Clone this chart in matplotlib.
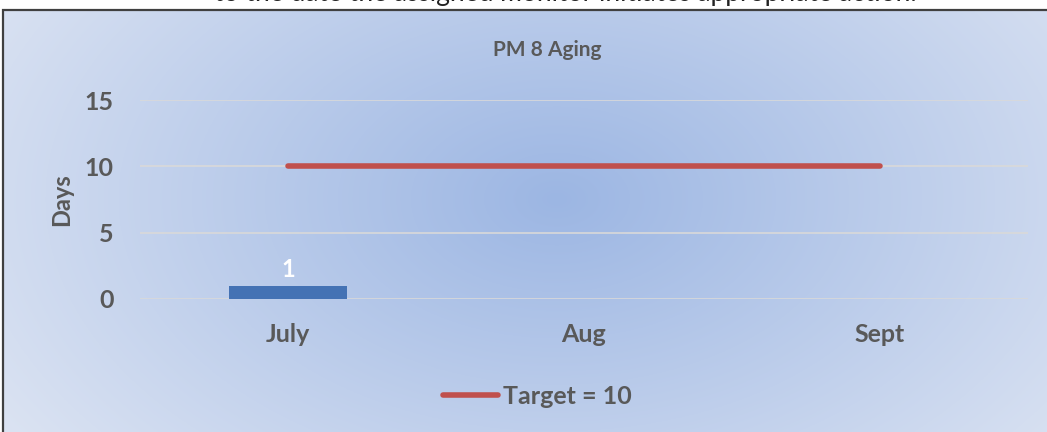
import numpy as np
import matplotlib
matplotlib.use("Agg")
import matplotlib.pyplot as plt
from matplotlib.patches import Rectangle

months = ["July", "Aug", "Sept"]
aging_days = [1, None, None]
target_days = [10, 10, 10]
target_label = "Target = 10"
title = "PM 8 Aging"
y_ticks = [0, 5, 10, 15]

W, H = 1047, 432
fig = plt.figure(figsize=(W / 100, H / 100), dpi=100)
plt.rcParams['font.family'] = ['Lato', 'DejaVu Sans']
text_col = "#595959"

# radial gradient backdrop inside the chart frame
frame_top = 1 - 10 / H
bg = fig.add_axes([3 / W, 0, 1 - 3 / W, frame_top])
yy, xx = np.mgrid[0:300, 0:800]
cx, cy = 0.53 * 800, 0.55 * 300
d = np.sqrt(((xx - cx) / 560) ** 2 + ((yy - cy) / 330) ** 2)
d = np.clip(d, 0, 1)
c0 = np.array([0x9c, 0xb6, 0xe3]) / 255
c1 = np.array([0xe2, 0xe8, 0xf4]) / 255
img = c0[None, None, :] * (1 - d[..., None]) + c1[None, None, :] * d[..., None]
bg.imshow(img, aspect="auto", extent=[0, 1, 0, 1], origin="lower")
bg.set_axis_off()
fig.patches.append(Rectangle((3 / W, -0.01), 1.0, frame_top + 0.01, transform=fig.transFigure,
                             fill=False, edgecolor="#404040", lw=1.6, zorder=10))

# caption line running off the top of the page
fig.text(0.54, 1 + 6 / H, "to the date the assigned monitor initiates appropriate action.",
         ha="center", va="center", fontsize=19, color="#222222")

ax = fig.add_axes([140 / W, 1 - 299 / H, 888 / W, (299 - 100) / H])
ax.set_facecolor("none")
x = np.arange(len(months))
bar_vals = [v if v is not None else 0 for v in aging_days]
ax.bar(x, bar_vals, width=0.4, color="#4472b4", zorder=3)
for xi, v in zip(x, aging_days):
    if v is not None:
        ax.text(xi, v + 0.35, str(v), ha="center", va="bottom", color="white",
                fontsize=17, fontweight="bold", zorder=4)
line, = ax.plot(x, target_days, color="#c0504d", lw=4, solid_capstyle="round",
                zorder=4, label=target_label)

ax.set_xlim(-0.5, 2.5)
ax.set_ylim(0, 15)
ax.set_yticks(y_ticks)
ax.set_xticks(x)
ax.set_xticklabels(months)
ax.tick_params(length=0, labelsize=18, colors=text_col)
for lab in ax.get_xticklabels() + ax.get_yticklabels():
    lab.set_fontweight("bold")
ax.tick_params(axis="y", pad=19)
ax.tick_params(axis="x", pad=17)
for s in ax.spines.values():
    s.set_visible(False)
ax.grid(axis="y", color="#d9d9d9", lw=1.2, zorder=0)
ax.set_axisbelow(True)
ax.set_ylabel("Days", fontsize=17, fontweight="bold", color=text_col, labelpad=8)
fig.text(547 / W, 1 - 50 / H, title, ha="center", va="center", fontsize=15,
         fontweight="bold", color=text_col)

leg = fig.legend(handles=[line], loc="center", bbox_to_anchor=(537 / W, 1 - 396 / H),
                 frameon=False, fontsize=18, handlelength=2.2, handletextpad=0.2)
for t in leg.get_texts():
    t.set_color(text_col)
    t.set_fontweight("bold")

fig.savefig("out.png", dpi=100)
